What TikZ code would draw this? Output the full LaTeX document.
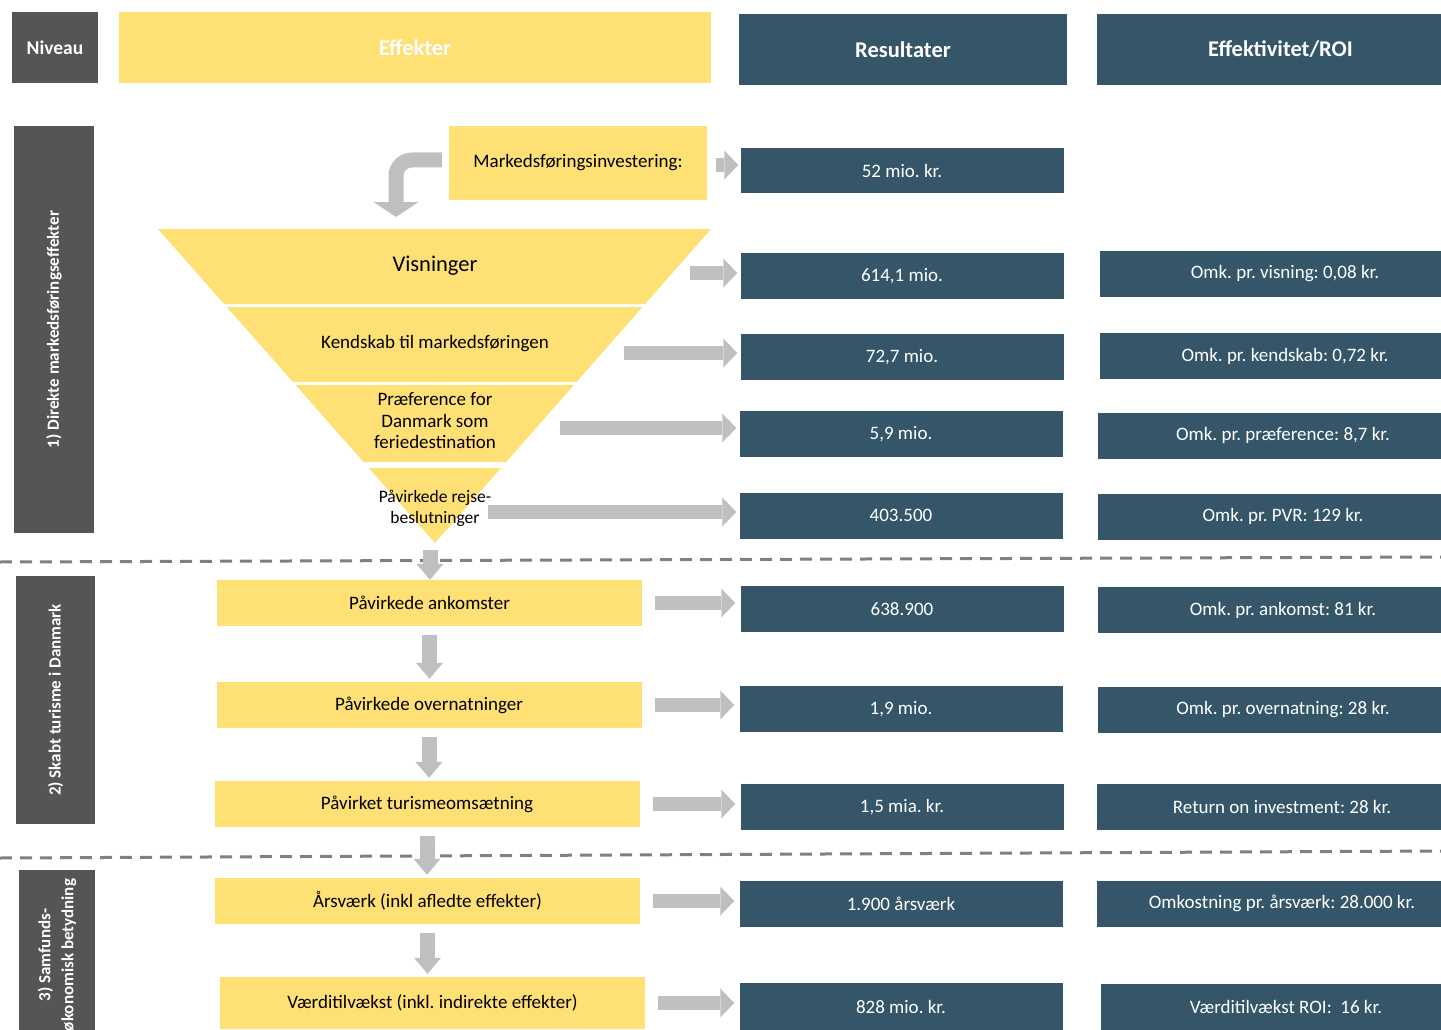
\documentclass[tikz,border=0pt]{standalone}
\usepackage{fontspec}
\setmainfont{Carlito}
\usepackage{tikz}
\usetikzlibrary{arrows.meta,positioning,calc}
\frenchspacing
\definecolor{effyellow}{RGB}{255,224,117}
\definecolor{resblue}{RGB}{52,86,104}
\definecolor{lvlgray}{RGB}{85,85,85}
\definecolor{arrgray}{RGB}{191,191,191}
\definecolor{sepgray}{RGB}{128,128,128}
\tikzset{
  % alle mål i px (1pt = 1px)
  every node/.append style={font=\fontsize{19}{21.5}\selectfont, inner sep=0pt},
  % niveau-bokse (mørkegrå)
  lvl/.style={fill=lvlgray, text=white, font=\fontsize{19.5}{22}\selectfont\bfseries},
  % lodrette niveau-etiketter
  side/.style={lvl, rotate=90, align=center, font=\fontsize{17}{23}\selectfont\bfseries},
  % gule effekt-bokse
  eff/.style={fill=effyellow, text=black, align=center},
  effbox/.style={eff, minimum width=425pt, minimum height=46pt},
  % overskrifter
  head/.style={text=white, font=\fontsize{22.5}{26}\selectfont\bfseries, minimum height=71pt},
  % resultat-bokse
  res/.style={fill=resblue, text=white, minimum width=323pt, minimum height=46pt},
  % effektivitet-bokse
  roi/.style={res, minimum width=370pt},
  % pile
  harr/.style={-{Triangle[length=14pt, width=29pt, line width=0pt]}, line width=14pt, arrgray},
  darr/.style={-{Triangle[length=16pt, width=27pt, line width=0pt]}, line width=15pt, arrgray},
  % stiplede skillelinjer
  sepline/.style={sepgray, line width=3pt, dash pattern=on 12pt off 8pt},
}

\begin{document}
\begin{tikzpicture}[x=1pt, y=-1pt]
  \useasboundingbox (0,0) rectangle (1441,1030);
  \clip (0,0) rectangle (1441,1030);

  % Skillelinjer
  \draw[sepline] (0,562) -- (1441,557);
  \draw[sepline] (0,858) -- (1441,851);

  % Overskrifter
  \node[lvl, minimum width=86pt, minimum height=71pt] (niveau) at (55,47.5) {Niveau};
  \node[head, fill=effyellow, minimum width=592pt] (effekter) at (415,47.5) {Effekter};
  \node[head, fill=resblue, minimum width=328pt] (resultater) at (903,49.5) {Resultater};
  \node[head, fill=resblue, minimum width=367pt] (roihead) at (1280.5,49.5) {Effektivitet/ROI};

  % Niveauer
  \node[side, minimum width=407pt, minimum height=80pt] (niv1) at (54,329.5) {1) Direkte markedsføringseffekter};
  \node[side, minimum width=248pt, minimum height=79pt] (niv2) at (55.5,700) {2) Skabt turisme i Danmark};
  \node[side, minimum width=170pt, minimum height=76pt] (niv3) at (57,955) {3) Samfunds-\\økonomisk betydning};

  % Tragt
  \foreach \ya/\yb in {229/304,307/382,385/462,468/543}
    \fill[effyellow] ({158+(\ya-229)/314*277},\ya) -- ({711-(\ya-229)/314*276},\ya)
      -- ({711-(\yb-229)/314*276},\yb) -- ({158+(\yb-229)/314*277},\yb) -- cycle;

  % Effekter
  \node[eff, minimum width=258pt, minimum height=74pt] (invest) at (578,163) {Markedsføringsinvestering:};
  \node[effbox] (y1) at (429.5,603) {Påvirkede ankomster};
  \node[effbox] (y2) at (429,705) {Påvirkede overnatninger};
  \node[effbox] (y3) at (427,804) {Påvirket turismeomsætning};
  \node[effbox] (y4) at (427.5,901) {Årsværk (inkl afledte effekter)};
  \node[effbox, minimum height=52pt] (y5) at (432.5,1003) {Værditilvækst (inkl. indirekte effekter)};

  % Resultater
  \node[res, minimum height=45pt] (r0) at (902,170.5) {52 mio. kr.};
  \node[res] (r1) at (902,276) {614,1 mio.};
  \node[res] (r2) at (902,357) {72,7 mio.};
  \node[res] (r3) at (901,434) {5,9 mio.};
  \node[res] (r4) at (901,515.5) {403.500};
  \node[res] (r5) at (902,609) {638.900};
  \node[res] (r6) at (901,709) {1,9 mio.};
  \node[res] (r7) at (902,807) {1,5 mia. kr.};
  \node[res] (r8) at (901,904) {1.900 årsværk};
  \node[res, minimum height=48pt] (r9) at (901,1007) {828 mio. kr.};

  % Effektivitet/ROI
  \node[roi] (e1) at (1285,273.5) {Omk. pr. visning: 0,08 kr.};
  \node[roi] (e2) at (1285,356) {Omk. pr. kendskab: 0,72 kr.};
  \node[roi] (e3) at (1283,435.5) {Omk. pr. præference: 8,7 kr.};
  \node[roi] (e4) at (1283,516.5) {Omk. pr. PVR: 129 kr.};
  \node[roi] (e5) at (1283,610) {Omk. pr. ankomst: 81 kr.};
  \node[roi] (e6) at (1283,709.5) {Omk. pr. overnatning: 28 kr.};
  \node[roi] (e7) at (1282,806.5) {Return on investment: 28 kr.};
  \node[roi] (e8) at (1282,903.5) {Omkostning pr. årsværk: 28.000 kr.};
  \node[roi] (e9) at (1286,1007) {Værditilvækst ROI:\ \ 16 kr.};

  % Pile
  \coordinate (ctip) at (396,217);
  \draw[arrgray, line width=15pt, rounded corners=16pt, shorten <=7pt,
        -{Triangle[length=15pt, width=45pt, line width=0pt]}] ([yshift=3pt]invest.west) -| (ctip);
  \draw[harr, shorten <=9pt, shorten >=2pt] ([yshift=-2pt]invest.east) -- ([yshift=-2pt]invest.east -| r0.west);

  \coordinate (f1) at (690,273);
  \coordinate (f2) at (624,353);
  \coordinate (f3) at (560,428);
  \coordinate (f4) at (488,512);
  \foreach \f/\r in {f1/r1,f2/r2,f3/r3,f4/r4}
    \draw[harr, shorten >=3pt] (\f) -- (\f -| \r.west);
  \foreach \y/\r in {y1/r5,y2/r6,y3/r7,y4/r8,y5/r9}
    \draw[harr, shorten <=13pt, shorten >=5pt] (\y.east) -- (\y.east -| \r.west);

  \coordinate (ftip) at (430,550);
  \draw[darr] (ftip) -- (ftip |- y1.north);
  \foreach \a/\b in {y1/y2,y2/y3,y3/y4,y4/y5}
    \draw[darr, shorten <=9pt, shorten >=3pt] (\a.south) -- (\a.south |- \b.north);

  % Tekst i tragten
  \node[font=\fontsize{22.5}{26}\selectfont] (vis) at (435,266) {Visninger};
  \node (kend) at (435,344) {Kendskab til markedsføringen};
  \node[align=center] (pref) at (435,421) {Præference for\\Danmark som\\feriedestination};
  \node[align=center, font=\fontsize{17.5}{21}\selectfont] (pvr) at (435,508) {Påvirkede rejse-\\beslutninger};
\end{tikzpicture}
\end{document}
